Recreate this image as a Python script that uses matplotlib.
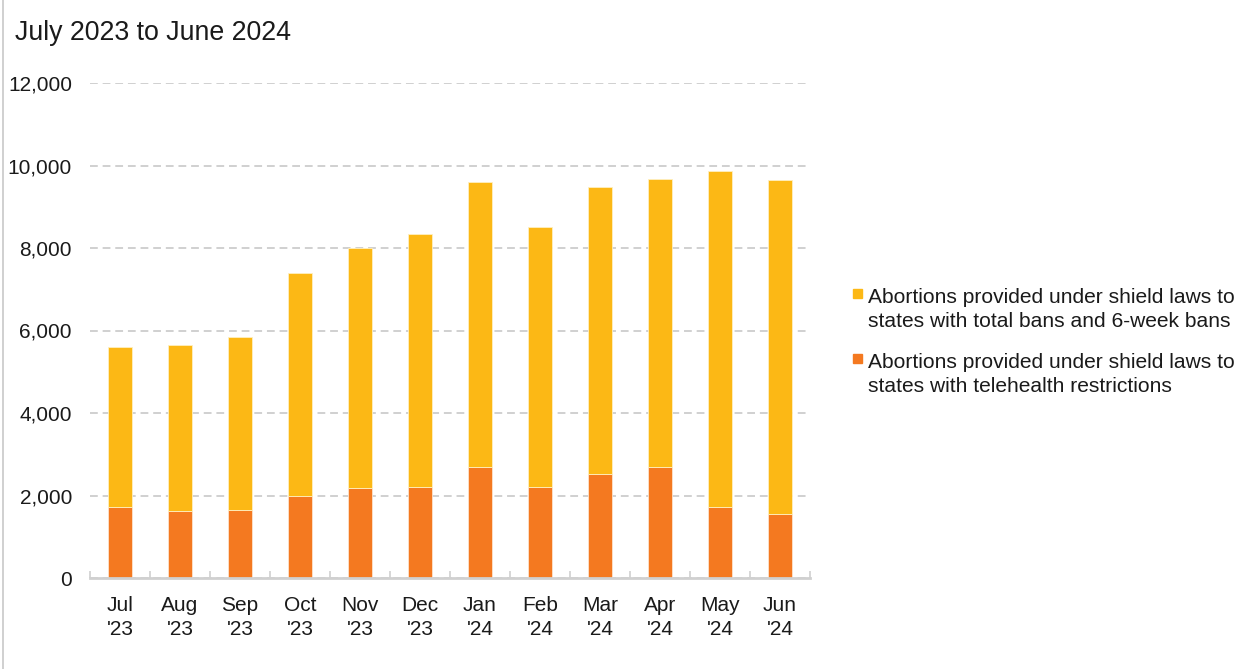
import matplotlib.pyplot as plt
import numpy as np
from matplotlib.lines import Line2D
from matplotlib.patches import Rectangle

plt.rcParams['font.family'] = ['Liberation Sans', 'DejaVu Sans']

# Données
months = ["Jul\n'23", "Aug\n'23", "Sep\n'23", "Oct\n'23", "Nov\n'23", "Dec\n'23",
          "Jan\n'24", "Feb\n'24", "Mar\n'24", "Apr\n'24", "May\n'24", "Jun\n'24"]
telehealth = [1710, 1615, 1655, 1995, 2170, 2205, 2680, 2205, 2520, 2680, 1710, 1560]
totals = [5590, 5660, 5845, 7400, 8000, 8330, 9605, 8515, 9485, 9665, 9860, 9640]
bans = [t - o for t, o in zip(totals, telehealth)]

label_bans = 'Abortions provided under shield laws to\nstates with total bans and 6-week bans'
label_tele = 'Abortions provided under shield laws to\nstates with telehealth restrictions'

c_orange = '#F47920'
c_yellow = '#FCB815'

W, H = 1243, 669
fig = plt.figure(figsize=(W / 100, H / 100), dpi=100)
ax = fig.add_axes([90 / W, 91 / H, 720 / W, 495 / H])

x = np.arange(len(months))
ax.bar(x, telehealth, width=0.4, color=c_orange, edgecolor='#fde3cc', linewidth=0.6, zorder=3)
ax.bar(x, bans, width=0.4, bottom=telehealth, color=c_yellow, edgecolor='#fff0c0',
       linewidth=0.6, zorder=3)

ax.set_xlim(-0.5, len(months) - 0.5)
ax.set_ylim(0, 12000)
ax.set_yticks(range(0, 12001, 2000))
ax.set_yticklabels([f'{v:,}' for v in range(0, 12001, 2000)], fontsize=15, color='#1a1a1a')
ax.yaxis.grid(True, linestyle=(0, (4, 2.5)), color='#d0d0d0', linewidth=1.4, zorder=0)
ax.tick_params(axis='y', length=0, pad=13)

# ticks majeurs invisibles au centre, mineurs aux limites des catégories
ax.set_xticks(x)
ax.set_xticklabels(months, fontsize=15, color='#1a1a1a', linespacing=1.3)
ax.tick_params(axis='x', which='major', length=0, pad=13)
ax.set_xticks(np.arange(-0.5, len(months), 1), minor=True)
ax.tick_params(axis='x', which='minor', direction='in', length=5, width=1.2, color='#d0d0d0')

for s in ['top', 'right', 'left']:
    ax.spines[s].set_visible(False)
ax.spines['bottom'].set_color('#d0d0d0')
ax.spines['bottom'].set_linewidth(2)
ax.spines['bottom'].set_zorder(4)

fig.text(15 / W, 1 - 33 / H, 'July 2023 to June 2024', fontsize=19.3, color='#1a1a1a',
         va='center', ha='left')

# légende à la main : carré aligné sur la première ligne
for label, col, ytop in [(label_bans, c_yellow, 288), (label_tele, c_orange, 353)]:
    fig.add_artist(Rectangle((853 / W, 1 - (ytop + 10) / H), 9 / W, 9 / H,
                             color=col, transform=fig.transFigure))
    fig.text(868 / W, 1 - ytop / H, label, fontsize=15.1, color='#1a1a1a',
             va='top', ha='left', linespacing=1.35)

# bordure gauche de l'image
fig.add_artist(Line2D([3 / W, 3 / W], [0, 1], color='#c8c8c8', linewidth=1.2,
                      transform=fig.transFigure))

fig.savefig('out.png', dpi=100, facecolor='white')
